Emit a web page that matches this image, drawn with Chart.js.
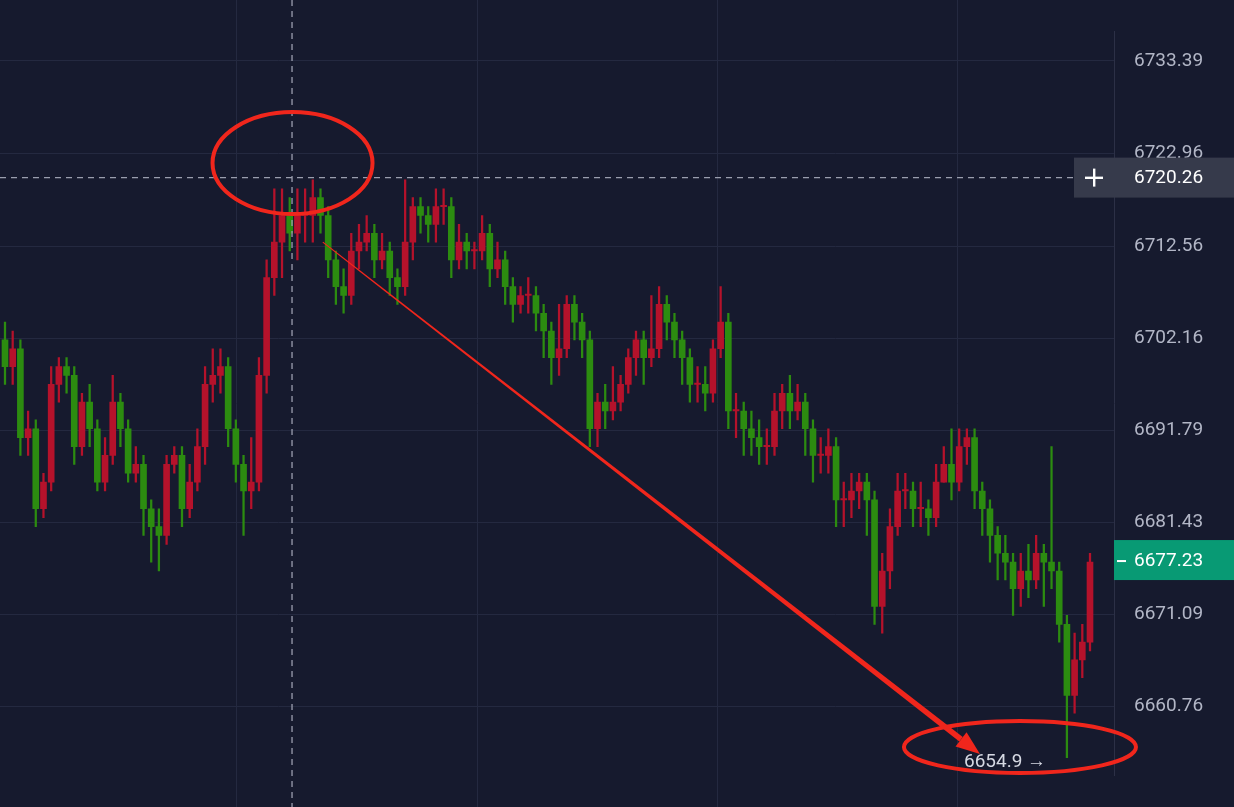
<!DOCTYPE html>
<html><head><meta charset="utf-8">
<script src="https://cdn.jsdelivr.net/npm/chart.js@4.4.0/dist/chart.umd.min.js"></script>
<style>html,body{margin:0;padding:0;background:#161a2e;overflow:hidden}#w{width:1234px;height:807px}</style>
</head><body><div id="w"><canvas id="c"></canvas></div>
<script>
const tickValues=[6733.39,6722.96,6712.56,6702.16,6691.79,6681.43,6671.09,6660.76];
const gridIndex=[30.0,61.3,92.5,123.7];
const opens=[6702,6699,6701,6691,6692,6683,6686,6697,6699,6698,6690,6695,6692,6686,6689,6695,6692,6687,6688,6683,6681,6680,6688,6689,6683,6686,6690,6697,6698,6699,6692,6688,6685,6686,6698,6709,6713,6716,6714,6716,6716,6718,6716,6711,6708,6707,6712,6713,6714,6711,6712,6709,6708,6713,6717,6716,6715,6717,6717,6711,6713,6712,6712,6714,6710,6711,6708,6706,6707,6707,6705,6703,6700,6701,6706,6704,6702,6692,6695,6694,6695,6697,6700,6702,6700,6701,6706,6704,6702,6700,6697,6697,6696,6701,6704,6694,6694,6692,6691,6690,6690,6694,6696,6694,6695,6692,6689,6689,6690,6684,6684,6685,6686,6684,6672,6676,6681,6685,6685,6683,6683,6682,6686,6688,6686,6690,6691,6685,6683,6680,6678,6677,6674,6676,6675,6678,6677,6676,6670,6662,6666,6668];
const closes=[6699,6701,6691,6692,6683,6686,6697,6699,6698,6690,6695,6692,6686,6689,6695,6692,6687,6688,6683,6681,6680,6688,6689,6683,6686,6690,6697,6698,6699,6692,6688,6685,6686,6698,6709,6713,6716,6714,6716,6716,6718,6716,6711,6708,6707,6712,6713,6714,6711,6712,6709,6708,6713,6717,6716,6715,6717,6717,6711,6713,6712,6712,6714,6710,6711,6708,6706,6707,6707,6705,6703,6700,6701,6706,6704,6702,6692,6695,6694,6695,6697,6700,6702,6700,6701,6706,6704,6702,6700,6697,6697,6696,6701,6704,6694,6694,6692,6691,6690,6690,6694,6696,6694,6695,6692,6689,6689,6690,6684,6684,6685,6686,6684,6672,6676,6681,6685,6685,6683,6683,6682,6686,6688,6686,6690,6691,6685,6683,6680,6678,6677,6674,6676,6675,6678,6677,6676,6670,6662,6666,6668,6677];
const highs=[6704,6703,6702,6694,6693,6687,6699,6700,6700,6699,6696,6697,6693,6691,6698,6696,6693,6690,6689,6684,6683,6689,6690,6690,6688,6692,6699,6701,6701,6700,6693,6689,6691,6700,6711,6719,6719,6718,6719,6719,6720,6719,6717,6712,6710,6714,6715,6716,6715,6714,6713,6710,6720,6718,6718,6717,6719,6719,6718,6715,6714,6713,6716,6715,6713,6712,6709,6708,6709,6708,6706,6704,6706,6707,6707,6705,6703,6696,6697,6699,6698,6701,6703,6703,6707,6708,6707,6705,6703,6701,6699,6699,6702,6708,6705,6696,6695,6694,6693,6692,6696,6697,6698,6697,6696,6693,6691,6692,6691,6686,6687,6687,6687,6685,6678,6683,6687,6687,6686,6686,6684,6688,6690,6692,6692,6692,6692,6686,6684,6681,6680,6678,6678,6679,6680,6679,6690,6677,6671,6669,6670,6678];
const lows=[6697,6697,6689,6689,6681,6682,6685,6695,6696,6688,6689,6690,6685,6685,6688,6690,6686,6686,6680,6677,6676,6679,6687,6681,6682,6685,6688,6695,6696,6690,6686,6680,6683,6685,6696,6707,6709,6712,6711,6713,6713,6714,6709,6706,6705,6706,6710,6712,6709,6710,6707,6706,6707,6711,6714,6713,6713,6715,6709,6710,6710,6710,6711,6708,6709,6706,6704,6705,6705,6703,6700,6697,6698,6700,6702,6700,6690,6690,6692,6693,6694,6696,6698,6697,6699,6700,6702,6700,6697,6695,6695,6694,6695,6700,6692,6691,6689,6689,6688,6688,6689,6692,6692,6693,6689,6686,6687,6687,6681,6681,6682,6683,6680,6670,6669,6674,6680,6683,6681,6681,6680,6681,6686,6684,6685,6688,6683,6680,6677,6675,6675,6671,6672,6673,6674,6672,6674,6668,6655,6660,6664,6667];
const lastPrice=6677.23, crossPrice=6720.26, targetLabel='6654.9';

const UP='#b5122b', DN='#2c8c10';
const n=closes.length, step=1085/(n-1), xMin=-5/step, xMax=xMin+1114/step;
const idx=[...Array(n).keys()];
const col=idx.map(i=>closes[i]>=opens[i]?UP:DN);
const yMax=6733.39+32*(6733.39-6660.76)/700, yMin=6733.39-775*(6733.39-6660.76)/700;

const gridp={id:'vg',beforeDatasetsDraw(ch){
  const c=ch.ctx,xs=ch.scales.x;c.save();c.strokeStyle='#242940';c.lineWidth=1;
  gridIndex.forEach(g=>{const x=Math.round(xs.getPixelForValue(g))+0.5;c.beginPath();c.moveTo(x,0);c.lineTo(x,807);c.stroke();});
  c.restore();}};
const overlay={id:'ov',afterDraw(ch){
  const c=ch.ctx,xs=ch.scales.x,ys=ch.scales.y;
  c.save();
  const cx=xs.getPixelForValue(37.3), cy=ys.getPixelForValue(crossPrice);
  c.strokeStyle='#9a9eae';c.lineWidth=1.3;c.setLineDash([6,5]);
  c.beginPath();c.moveTo(cx,0);c.lineTo(cx,807);c.moveTo(0,cy);c.lineTo(1074,cy);c.stroke();
  c.setLineDash([]);
  const x1=xs.getPixelForValue(41.3),y1=ys.getPixelForValue(6713.0),x2=xs.getPixelForValue(126.7),y2=ys.getPixelForValue(6655.4);
  const a=Math.atan2(y2-y1,x2-x1),nx=-Math.sin(a),ny=Math.cos(a);
  const hx=x2-Math.cos(a)*24,hy=y2-Math.sin(a)*24;
  c.fillStyle='#f0261c';
  c.beginPath();c.moveTo(x1+nx*0.6,y1+ny*0.6);c.lineTo(hx+nx*2.8,hy+ny*2.8);c.lineTo(hx-nx*2.8,hy-ny*2.8);c.lineTo(x1-nx*0.6,y1-ny*0.6);c.fill();
  c.beginPath();c.moveTo(x2,y2);c.lineTo(hx+nx*9,hy+ny*9);c.lineTo(hx-nx*9,hy-ny*9);c.closePath();c.fill();
  c.strokeStyle='#f0261c';c.lineWidth=4;
  c.beginPath();c.ellipse(cx+0.5,ys.getPixelForValue(6721.9),80,51,0,0,Math.PI*2);c.stroke();
  c.beginPath();c.ellipse(xs.getPixelForValue(131.9),ys.getPixelForValue(6656.2),116,26,0,0,Math.PI*2);c.stroke();
  c.font='19px Roboto';c.fillStyle='#d6d9e3';c.textBaseline='middle';c.textAlign='left';
  c.fillText(targetLabel+' →',964,ys.getPixelForValue(6654.9)+4);
  c.fillStyle='#363a4b';c.fillRect(1074,cy-20,160,40);
  c.fillStyle='#ffffff';c.fillRect(1085,cy-1,18,2.4);c.fillRect(1093,cy-9,2.4,18);
  c.fillText(crossPrice.toFixed(2),1134,cy+1);
  const ly=ys.getPixelForValue(lastPrice);
  c.fillStyle='#089a74';c.fillRect(1114,ly-20,120,40);
  c.fillStyle='#ffffff';c.fillRect(1117,ly,9,2);
  c.fillText(lastPrice.toFixed(2),1134,ly+1);
  c.restore();
}};
const bgp={id:'bg',beforeDraw(ch){const c=ch.ctx;c.save();c.fillStyle='#161a2e';c.fillRect(0,0,ch.width,ch.height);c.restore();}};

new Chart(document.getElementById('c'),{
  type:'bar',
  data:{datasets:[
    {data:idx.map(i=>({x:i,y:[lows[i],highs[i]]})),backgroundColor:col,barThickness:1.6,grouped:false,order:2},
    {data:idx.map(i=>({x:i,y:[opens[i],closes[i]===opens[i]?closes[i]+0.15:closes[i]]})),backgroundColor:col,barThickness:6,grouped:false,order:1}
  ]},
  options:{responsive:true,maintainAspectRatio:false,animation:false,
    layout:{padding:0,autoPadding:false},
    plugins:{legend:{display:false},tooltip:{enabled:false}},
    scales:{
      x:{type:'linear',display:false,min:xMin,max:xMax,offset:false},
      y:{position:'right',min:yMin,max:yMax,
        afterBuildTicks(s){s.ticks=tickValues.map(v=>({value:v}));},
        afterFit(s){s.width=120;},
        ticks:{color:'#b2b6c6',font:{family:'Roboto',size:19},padding:20,callback:v=>v.toFixed(2)},
        grid:{color:'#242940',drawTicks:false},border:{color:'#2c3046'}}
    }},
  plugins:[bgp,gridp,overlay]
});
</script></body></html>
